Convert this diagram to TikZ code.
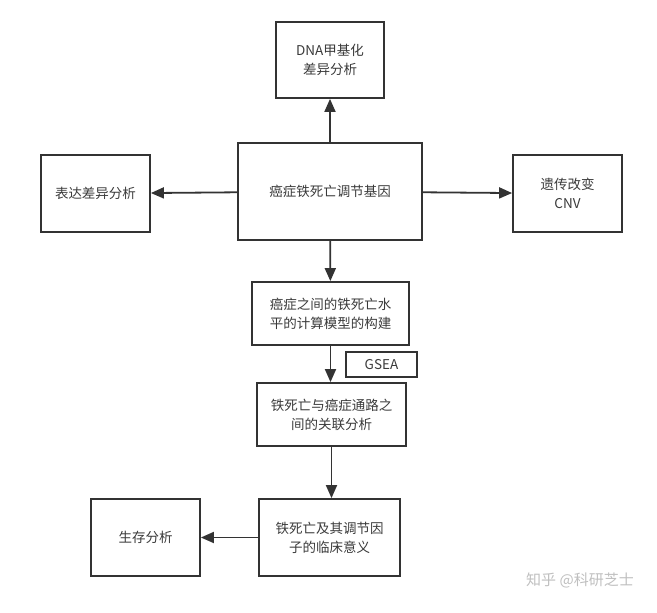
\documentclass[tikz,border=0pt]{standalone}
\usepackage{fontspec}
\setmainfont{Noto Sans CJK SC}
\usepackage{tikz}
\usetikzlibrary{arrows.meta}
\definecolor{boxline}{HTML}{333333}
\definecolor{boxtext}{HTML}{3A3A3A}
\tikzset{%
  flow/.style = {
    x=1pt, y=-1pt,
    every node/.style = {font=\fontsize{13.5pt}{19pt}\selectfont,
      text=boxtext, align=center, inner sep=0pt},
    box/.style = {shape=rectangle, draw=boxline, line width=1.8pt},
    link/.style = {draw=boxline, line width=1.8pt,
      -{Triangle[length=13pt,width=11pt]}}
  }
}
\begin{document}
\begin{tikzpicture}[flow]
  \useasboundingbox (0,0) rectangle (657,613);
  \node[box, minimum width=108pt, minimum height=76pt] (dna) at (330,60) {DNA甲基化\\差异分析};
  \node[box, minimum width=184pt, minimum height=97pt] (gene) at (330,191.5) {癌症铁死亡调节基因};
  \node[box, minimum width=109pt, minimum height=77pt] (expr) at (95.5,193.5) {表达差异分析};
  \node[box, minimum width=109pt, minimum height=77pt] (cnv) at (567.5,193.5) {遗传改变\\CNV};
  \node[box, minimum width=157pt, minimum height=63pt] (model) at (330.5,313.5) {癌症之间的铁死亡水\\平的计算模型的构建};
  \node[box, minimum width=71pt, minimum height=25pt, line width=1.3pt] (gsea) at (381.5,364.5) {GSEA};
  \node[box, minimum width=149pt, minimum height=63pt] (path) at (331.5,414.5) {铁死亡与癌症通路之\\间的关联分析};
  \node[box, minimum width=141pt, minimum height=77pt] (clin) at (329.5,537.5) {铁死亡及其调节因\\子的临床意义};
  \node[box, minimum width=109pt, minimum height=77pt] (surv) at (145.5,537.5) {生存分析};
  \node[text=black!25, font=\fontsize{15pt}{18pt}\selectfont] (mark) at (580,580) {知乎 @科研芝士};
  % connectors
  \draw[link] (gene) -- (dna);
  \draw[link] (gene) -- (expr);
  \draw[link] (gene) -- (cnv);
  \draw[link] (gene) -- (model);
  \draw[link] (model) -- (model |- path.north);
  \draw[link] (path) -- (path |- clin.north);
  \draw[link] (clin) -- (surv);
\end{tikzpicture}
\end{document}
